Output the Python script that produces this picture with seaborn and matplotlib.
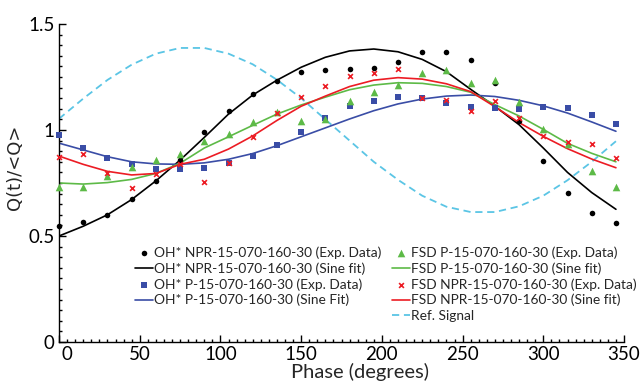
import matplotlib
matplotlib.use("Agg")
import matplotlib.pyplot as plt
import matplotlib.transforms as mtransforms
from matplotlib.lines import Line2D
from matplotlib.ticker import MultipleLocator
import seaborn as sns

# ---------------- data ----------------
phase = [0, 15, 30, 45, 60, 75, 90, 105, 120, 135, 150, 165,
         180, 195, 210, 225, 240, 255, 270, 285, 300, 315, 330, 345]

oh_npr_exp = [0.547, 0.568, 0.599, 0.673, 0.761, 0.860, 0.989, 1.091, 1.171, 1.233, 1.274, 1.283,
              1.288, 1.291, 1.322, 1.366, 1.369, 1.332, 1.220, 1.042, 0.855, 0.701, 0.610, 0.560]
oh_npr_fit = [0.500, 0.546, 0.600, 0.672, 0.760, 0.858, 0.965, 1.075, 1.165, 1.235, 1.296, 1.343,
              1.373, 1.382, 1.369, 1.333, 1.275, 1.192, 1.112, 1.025, 0.915, 0.800, 0.705, 0.626]

oh_p_exp = [0.976, 0.913, 0.869, 0.840, 0.816, 0.815, 0.819, 0.843, 0.877, 0.929, 0.992, 1.055,
            1.113, 1.138, 1.154, 1.149, 1.126, 1.110, 1.102, 1.099, 1.107, 1.102, 1.071, 1.027]
oh_p_fit = [0.938, 0.906, 0.874, 0.850, 0.840, 0.838, 0.845, 0.862, 0.889, 0.926, 0.968, 1.010,
            1.052, 1.091, 1.123, 1.146, 1.160, 1.165, 1.158, 1.140, 1.114, 1.080, 1.038, 0.994]

fsd_p_exp = [0.733, 0.733, 0.783, 0.824, 0.858, 0.888, 0.948, 0.981, 1.039, 1.086, 1.044, 1.050,
             1.138, 1.181, 1.212, 1.270, 1.283, 1.223, 1.235, 1.134, 1.003, 0.934, 0.807, 0.730]
fsd_p_fit = [0.750, 0.745, 0.752, 0.767, 0.795, 0.843, 0.915, 0.968, 1.022, 1.075, 1.118, 1.155,
             1.190, 1.212, 1.223, 1.220, 1.205, 1.178, 1.120, 1.066, 1.003, 0.937, 0.890, 0.850]

fsd_npr_exp = [0.871, 0.887, 0.799, 0.725, 0.792, 0.838, 0.756, 0.843, 0.968, 1.082, 1.154, 1.208,
               1.255, 1.270, 1.286, 1.152, 1.142, 1.090, 1.138, 1.055, 0.972, 0.945, 0.932, 0.866]
fsd_npr_fit = [0.877, 0.838, 0.805, 0.788, 0.795, 0.838, 0.862, 0.910, 0.972, 1.045, 1.112, 1.160,
               1.205, 1.235, 1.247, 1.240, 1.218, 1.181, 1.110, 1.035, 0.970, 0.912, 0.863, 0.822]

ref_signal = [1.053, 1.148, 1.236, 1.308, 1.360, 1.387, 1.387, 1.360, 1.310, 1.237, 1.150, 1.050,
              0.950, 0.850, 0.765, 0.690, 0.638, 0.613, 0.613, 0.640, 0.690, 0.763, 0.850, 0.947]

labels = {
    "a": "OH* NPR-15-070-160-30 (Exp. Data)",
    "b": "OH* NPR-15-070-160-30 (Sine fit)",
    "c": "OH* P-15-070-160-30 (Exp. Data)",
    "d": "OH* P-15-070-160-30 (Sine Fit)",
    "e": "FSD P-15-070-160-30 (Exp. Data)",
    "f": "FSD P-15-070-160-30 (Sine fit)",
    "g": "FSD NPR-15-070-160-30 (Exp. Data)",
    "h": "FSD NPR-15-070-160-30 (Sine fit)",
    "i": "Ref. Signal",
}

x_ticks = [0, 50, 100, 150, 200, 250, 300, 350]
y_ticks = [0, 0.5, 1, 1.5]
y_tick_labels = ["0", "0.5", "1", "1.5"]

# ---------------- style ----------------
BLACK = "#000000"
BLUE = "#3A4DA6"
GREEN = "#5DBA47"
RED = "#EC1C24"
CYAN = "#5BC5E5"

sns.set_style("ticks")
plt.rcParams["font.family"] = ["Lato", "DejaVu Sans"]

fig = plt.figure(figsize=(6.44, 3.81), dpi=100)
ax = fig.add_axes([59 / 644, 1 - 342 / 381, 565 / 644, 318 / 381])

lw = 1.2
sns.lineplot(x=phase, y=ref_signal, color=CYAN, lw=1.3, ax=ax, label=labels["i"],
             sort=False, estimator=None)
ax.lines[-1].set_dashes([4, 2.6])
sns.lineplot(x=phase, y=oh_npr_fit, color=BLACK, lw=lw, ax=ax, label=labels["b"],
             sort=False, estimator=None)
sns.lineplot(x=phase, y=oh_p_fit, color=BLUE, lw=lw, ax=ax, label=labels["d"],
             sort=False, estimator=None)
sns.lineplot(x=phase, y=fsd_p_fit, color=GREEN, lw=lw, ax=ax, label=labels["f"],
             sort=False, estimator=None)
sns.lineplot(x=phase, y=fsd_npr_fit, color=RED, lw=lw, ax=ax, label=labels["h"],
             sort=False, estimator=None)

sns.scatterplot(x=phase, y=oh_npr_exp, color=BLACK, marker="o", s=16, linewidth=0,
                ax=ax, label=labels["a"], zorder=4, clip_on=False)
sns.scatterplot(x=phase, y=oh_p_exp, color=BLUE, marker="s", s=14, linewidth=0,
                ax=ax, label=labels["c"], zorder=4, clip_on=False)
sns.scatterplot(x=phase, y=fsd_p_exp, color=GREEN, marker="^", s=30, linewidth=0,
                ax=ax, label=labels["e"], zorder=4, clip_on=False)
sns.scatterplot(x=phase, y=fsd_npr_exp, color=RED, marker="x", s=12, linewidth=1.2,
                ax=ax, label=labels["g"], zorder=4, clip_on=False)

# ---------------- axes ----------------
ax.set_xlim(0, 350)
ax.set_ylim(0, 1.5)
ax.set_xticks(x_ticks)
ax.set_yticks(y_ticks)
ax.set_yticklabels(y_tick_labels)
ax.xaxis.set_minor_locator(MultipleLocator(5))
ax.yaxis.set_minor_locator(MultipleLocator(0.05))
sns.despine(ax=ax)
for s in ["left", "bottom"]:
    ax.spines[s].set_linewidth(1.0)
    ax.spines[s].set_color("black")
ax.tick_params(which="both", direction="in", top=False, right=False, width=1.0, colors="black")
ax.tick_params(which="major", length=5, labelsize=13.5, pad=3)
ax.tick_params(which="minor", length=2.5)

ax.set_xlabel("Phase (degrees)", fontsize=14.5, va="bottom")
ax.set_ylabel("Q(t)/<Q>", fontsize=13, family=["DejaVu Sans"])
ax.xaxis.set_label_coords(0.533, -0.1215)
ax.yaxis.set_label_coords(-0.062, 0.55)

# legend: 4 entries in first column, 5 in second
h, l = ax.get_legend_handles_labels()
d = dict(zip(l, h))
blank = Line2D([], [], linestyle="none")
col1 = [labels[k] for k in "abcd"]
col2 = [labels[k] for k in "efghi"]
handles = [d[k] for k in col1] + [blank] + [d[k] for k in col2]
labs = col1 + [""] + col2
ax.legend(handles, labs, ncol=2, frameon=False, loc="upper left",
          bbox_to_anchor=(135 / 644, 1 - 246 / 381), bbox_transform=fig.transFigure,
          borderpad=0, borderaxespad=0, handlelength=1.3, handletextpad=0.08,
          columnspacing=0.8, labelspacing=0.25, fontsize=9.9)

# shift the "0" x tick label slightly right as in the reference
lab0 = ax.xaxis.get_major_ticks()[0].label1
lab0.set_transform(lab0.get_transform() +
                   mtransforms.ScaledTranslation(6 / 72, 0, fig.dpi_scale_trans))

fig.savefig("out.png", dpi=100)
